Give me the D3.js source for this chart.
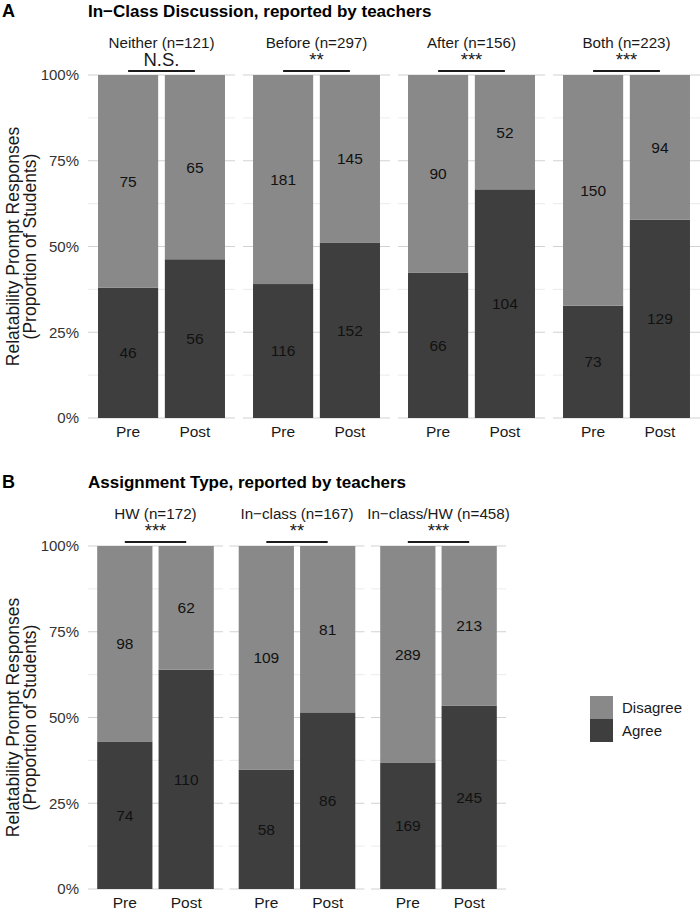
<!DOCTYPE html>
<html><head><meta charset="utf-8">
<script src="https://cdn.jsdelivr.net/npm/d3@7"></script>
<style>
body{margin:0;background:#fff;}
text{font-family:"Liberation Sans",Arial,Helvetica,sans-serif;}
</style></head>
<body><svg id="c" width="700" height="910"></svg>
<script>
// ---- Data ----
const timepoints = ["Pre", "Post"];
const responses = ["Disagree", "Agree"];

const facetsA = ["Neither (n=121)", "Before (n=297)", "After (n=156)", "Both (n=223)"];
const sigA = ["N.S.", "**", "***", "***"];
const agreePreA = [46, 116, 66, 73];
const agreePostA = [56, 152, 104, 129];
const disagreePreA = [75, 181, 90, 150];
const disagreePostA = [65, 145, 52, 94];

const facetsB = ["HW (n=172)", "In\u2212class (n=167)", "In\u2212class/HW (n=458)"];
const sigB = ["***", "**", "***"];
const agreePreB = [74, 58, 169];
const agreePostB = [110, 86, 245];
const disagreePreB = [98, 109, 289];
const disagreePostB = [62, 81, 213];

const yTicks = [0, 0.25, 0.5, 0.75, 1];
const yMinor = [0.125, 0.375, 0.625, 0.875];

const colors = {Disagree: "#898989", Agree: "#3e3e3e"};

const svg = d3.select("#c");

function panel(opts) {
  const {facets, sig, aPre, aPost, dPre, dPost, x0, x1, pad, yTop, yBot, dy, title, letter} = opts;
  const g = svg.append("g").attr("transform", `translate(0,${dy})`);
  const fx = d3.scaleBand().domain(facets).range([x0, x1]).paddingInner(pad).paddingOuter(0);
  const y = d3.scaleLinear().domain([0, 1]).range([yBot, yTop]);
  const pw = fx.bandwidth();
  const bx = d3.scaleBand().domain(timepoints).range([0, pw]).paddingInner(0.1).paddingOuter(0.15);

  // Letter & title
  g.append("text").attr("x", 2).attr("y", 17).attr("font-size", 18).attr("font-weight", "bold").attr("fill", "#000").text(letter);
  g.append("text").attr("x", 88).attr("y", 17).attr("font-size", 17).attr("font-weight", "bold").attr("fill", "#000").text(title);

  // y axis title
  const cy = (yTop + yBot) / 2;
  const yt = g.append("text").attr("transform", `translate(19,${cy}) rotate(-90)`).attr("text-anchor", "middle").attr("font-size", 17.5).attr("fill", "#1a1a1a");
  yt.append("tspan").attr("x", 0).attr("y", 0).text("Relatability Prompt Responses");
  yt.append("tspan").attr("x", 0).attr("y", 17).text("(Proportion of Students)");

  // y tick labels
  g.selectAll(".yl").data(yTicks).enter().append("text")
    .attr("x", 79).attr("y", d => y(d)).attr("dy", "0.35em").attr("text-anchor", "end")
    .attr("font-size", 15).attr("fill", "#333").text(d => d3.format(".0%")(d));

  facets.forEach((f, i) => {
    const px = fx(f);
    const pg = g.append("g").attr("transform", `translate(${px},0)`);
    // grid
    pg.selectAll(".mn").data(yMinor).enter().append("line")
      .attr("x1", 0).attr("x2", pw).attr("y1", d => y(d)).attr("y2", d => y(d))
      .attr("stroke", "#e6e6e6").attr("stroke-width", 0.8);
    pg.selectAll(".mj").data(yTicks).enter().append("line")
      .attr("x1", 0).attr("x2", pw).attr("y1", d => y(d)).attr("y2", d => y(d))
      .attr("stroke", "#d2d2d2").attr("stroke-width", 1.2);

    const rows = [
      {t: "Pre", agree: aPre[i], disagree: dPre[i]},
      {t: "Post", agree: aPost[i], disagree: dPost[i]}
    ];
    const stack = d3.stack().keys(["Agree", "Disagree"]).offset(d3.stackOffsetExpand)(
      rows.map(r => ({t: r.t, Agree: r.agree, Disagree: r.disagree})));
    stack.forEach(layer => {
      layer.forEach(seg => {
        const t = seg.data.t;
        pg.append("rect").attr("x", bx(t)).attr("width", bx.bandwidth())
          .attr("y", y(seg[1])).attr("height", y(seg[0]) - y(seg[1]))
          .attr("fill", colors[layer.key]);
        pg.append("text").attr("x", bx(t) + bx.bandwidth() / 2).attr("y", y((seg[0] + seg[1]) / 2))
          .attr("dy", "0.35em").attr("text-anchor", "middle").attr("font-size", 15.5).attr("fill", "#111")
          .text(seg.data[layer.key]);
      });
    });
    // x labels
    timepoints.forEach(t => {
      pg.append("text").attr("x", bx(t) + bx.bandwidth() / 2).attr("y", yBot + 19)
        .attr("text-anchor", "middle").attr("font-size", 15.5).attr("fill", "#1a1a1a").text(t);
    });
    // strip label
    pg.append("text").attr("x", pw / 2).attr("y", 48).attr("text-anchor", "middle")
      .attr("font-size", 15.2).attr("fill", "#1a1a1a").text(f);
    // significance
    const c1 = bx("Pre") + bx.bandwidth() / 2, c2 = bx("Post") + bx.bandwidth() / 2;
    pg.append("line").attr("x1", c1).attr("x2", c2).attr("y1", yTop - 4).attr("y2", yTop - 4)
      .attr("stroke", "#1a1a1a").attr("stroke-width", 2);
    pg.append("text").attr("x", (c1 + c2) / 2).attr("y", 66).attr("text-anchor", "middle")
      .attr("font-size", 18.5).attr("fill", "#1a1a1a").text(sig[i]);
  });
}

panel({facets: facetsA, sig: sigA, aPre: agreePreA, aPost: agreePostA, dPre: disagreePreA, dPost: disagreePostA,
  x0: 88, x1: 700, pad: 8 / 155, yTop: 75, yBot: 418, dy: 0,
  title: "In\u2212Class Discussion, reported by teachers", letter: "A"});

panel({facets: facetsB, sig: sigB, aPre: agreePreB, aPost: agreePostB, dPre: disagreePreB, dPost: disagreePostB,
  x0: 88, x1: 506, pad: 6.5 / 141.5, yTop: 75, yBot: 418, dy: 471,
  title: "Assignment Type, reported by teachers", letter: "B"});

// legend
const lg = svg.append("g").attr("transform", "translate(590,696)");
responses.forEach((r, i) => {
  lg.append("rect").attr("x", 0).attr("y", i * 23).attr("width", 23).attr("height", 23).attr("fill", colors[r]);
  lg.append("text").attr("x", 32).attr("y", i * 23 + 11.5).attr("dy", "0.35em").attr("font-size", 15)
    .attr("fill", "#1a1a1a").text(r);
});
</script></body></html>
